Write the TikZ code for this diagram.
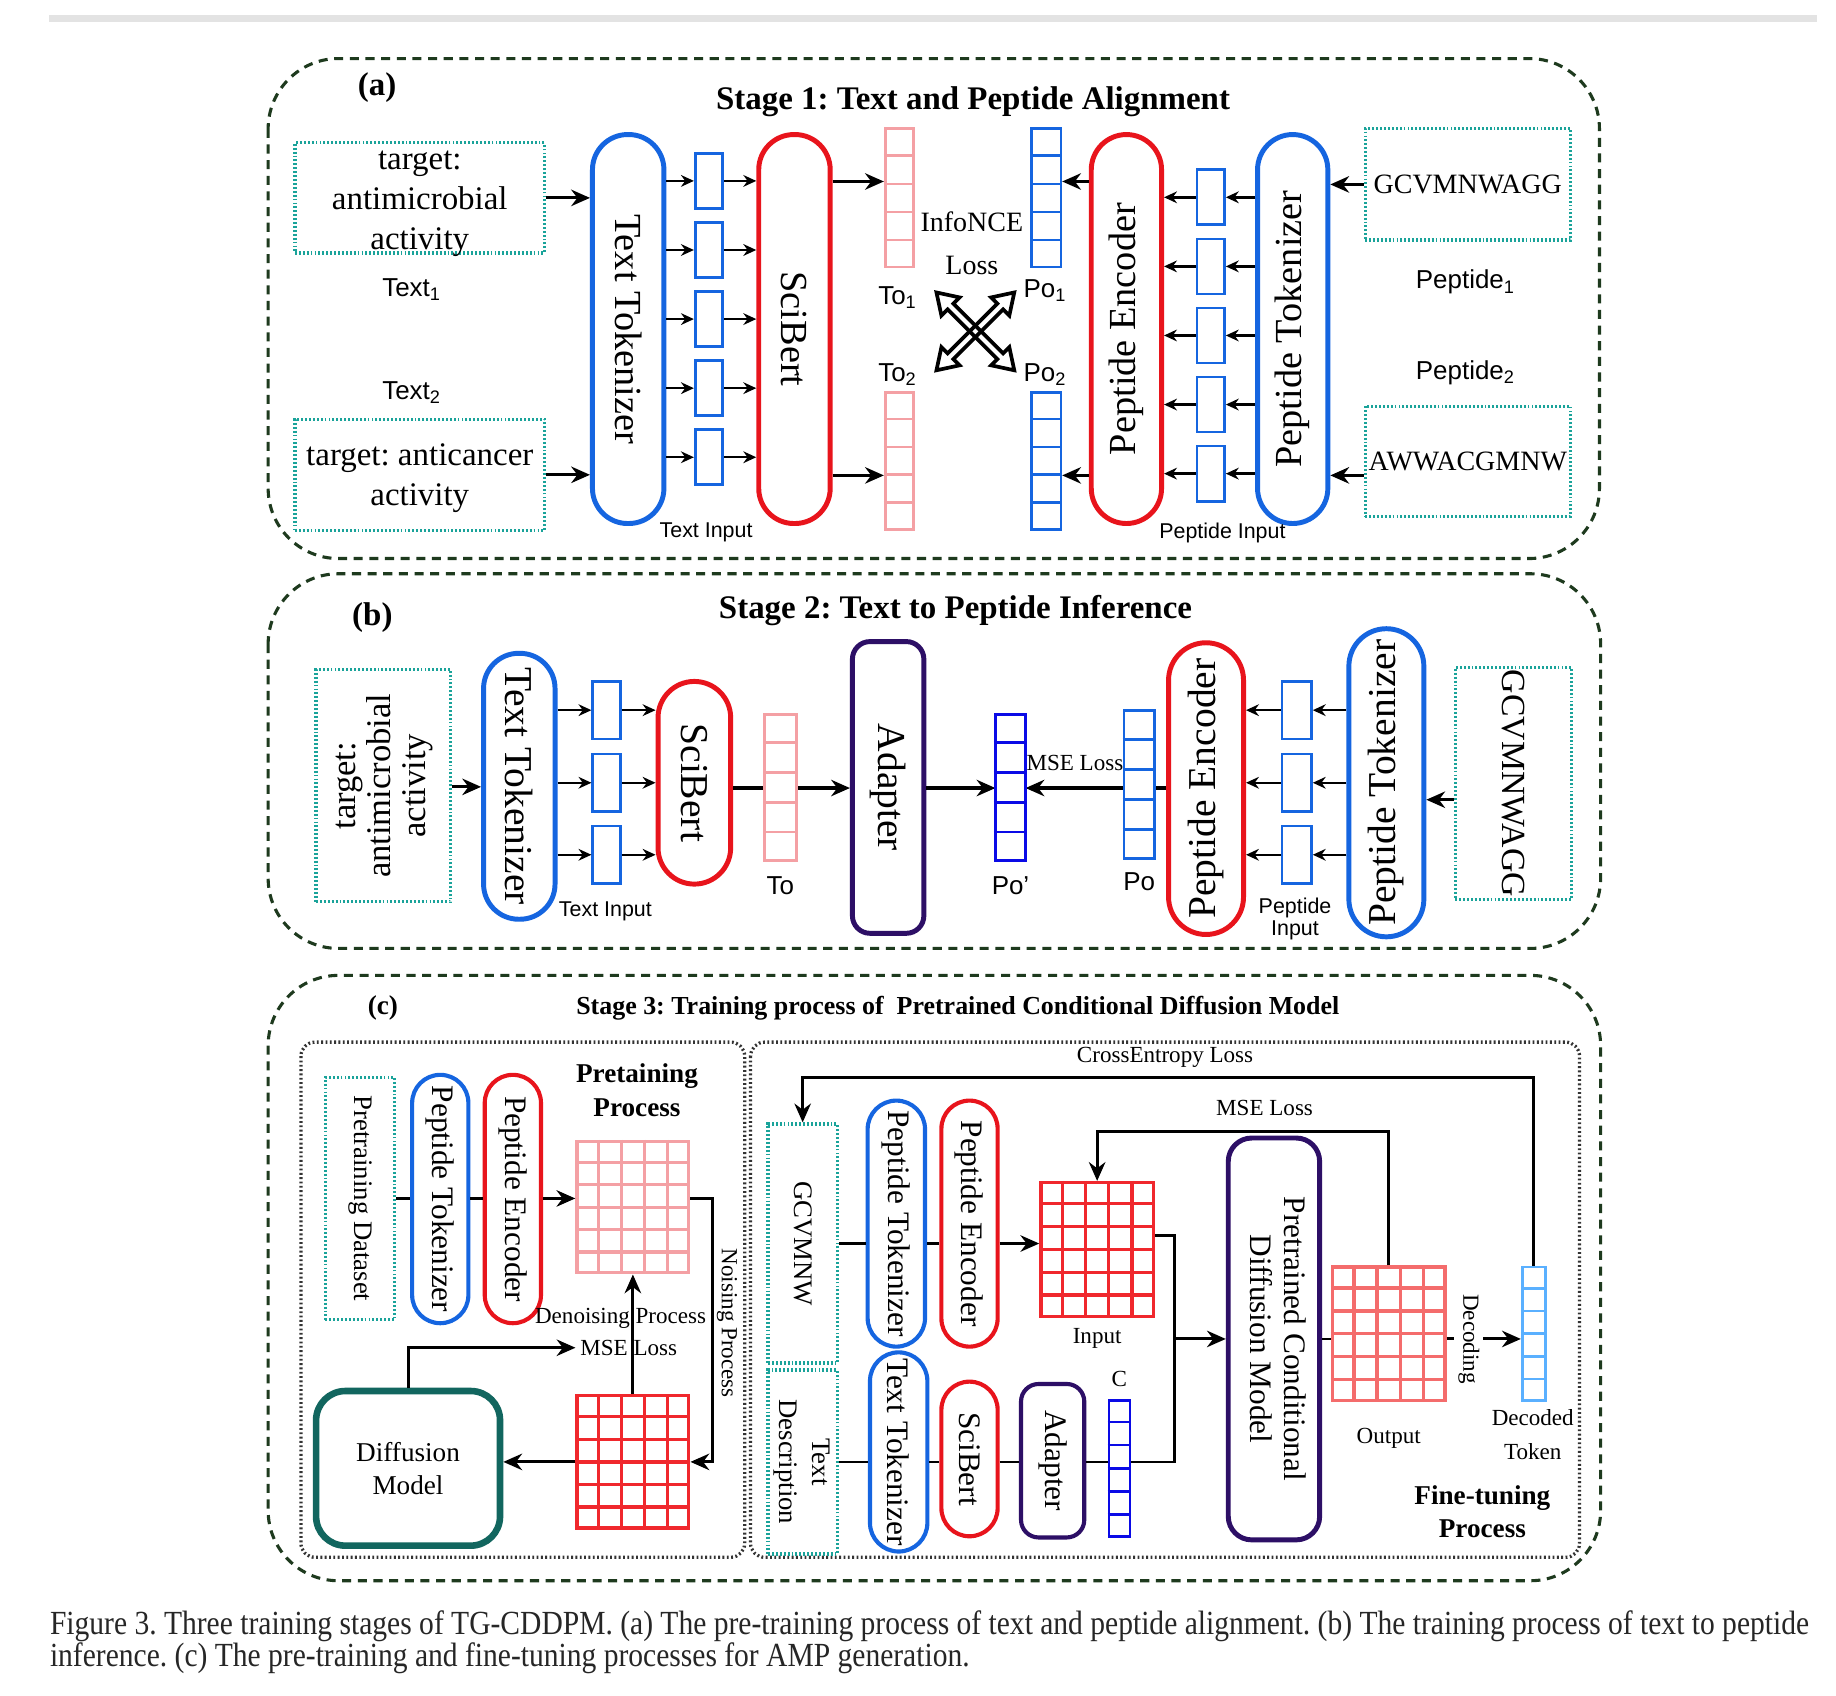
\documentclass[tikz,border=0pt]{standalone}
\usepackage{fontspec}
\setmainfont{Liberation Serif}
\setsansfont{Liberation Sans}
\newfontfamily\capfont[FakeStretch=0.875]{Liberation Serif}
\usepackage{graphicx}
\usetikzlibrary{arrows.meta, positioning, calc}
\definecolor{panelGreen}{HTML}{1E3A1E}
\definecolor{boxTeal}{HTML}{1AA39A}
\definecolor{tokBlue}{HTML}{1565E0}
\definecolor{encRed}{HTML}{E8141C}
\definecolor{vecPink}{HTML}{F4A0A4}
\definecolor{adpPurple}{HTML}{2D0F66}
\definecolor{diffTeal}{HTML}{12665F}
\definecolor{deepBlue}{HTML}{0A0AE6}
\definecolor{lightBlue}{HTML}{5AB0FF}
\definecolor{gridRed}{HTML}{F0282D}
\definecolor{outRed}{HTML}{F46C6C}

% rotated multi-line text
\newcommand{\rottext}[2]{\rotatebox{#1}{\begin{tabular}{@{}c@{}}#2\end{tabular}}}
% horizontal cell lines of a vector stack
\newcommand{\stackcells}[3]{%
  \pgfmathtruncatemacro{\nlines}{#2-1}%
  \foreach \k in {1,...,\nlines}{%
    \draw[#3, line width=0.6pt] ($(#1.north west)!\k/#2!(#1.south west)$) -- ($(#1.north east)!\k/#2!(#1.south east)$);}}
% cell lines of a matrix
\newcommand{\gridcells}[4]{%
  \pgfmathtruncatemacro{\gcols}{#2-1}\pgfmathtruncatemacro{\grows}{#3-1}%
  \foreach \k in {1,...,\gcols}{%
    \draw[#4, line width=0.8pt] ($(#1.north west)!\k/#2!(#1.north east)$) -- ($(#1.south west)!\k/#2!(#1.south east)$);}%
  \foreach \k in {1,...,\grows}{%
    \draw[#4, line width=0.8pt] ($(#1.north west)!\k/#3!(#1.south west)$) -- ($(#1.north east)!\k/#3!(#1.south east)$);}}
% hollow double-headed arrow
\newcommand{\crossarrow}[2]{%
  \begin{scope}[shift={#1}, rotate=#2]
    \draw[line width=0.9pt, line join=miter] (-47,0) -- (-30,11) -- (-30,3.5) -- (30,3.5) -- (30,11) -- (47,0)
      -- (30,-11) -- (30,-3.5) -- (-30,-3.5) -- (-30,-11) -- cycle;
  \end{scope}}

\begin{document}
\frenchspacing
\begin{tikzpicture}[
    x=0.01cm, y=-0.01cm,
    every node/.style={font=\fontsize{8}{9.7}\selectfont, align=center, inner sep=1pt},
    panel/.style={draw=panelGreen, line width=0.75pt, dash pattern=on 2.2pt off 1.6pt, rounded corners=0.6cm},
    subpanel/.style={draw=black!80, line width=0.8pt, dash pattern=on 0.45pt off 0.6pt, rounded corners=0.12cm},
    dbox/.style={draw=boxTeal, line width=0.8pt, dash pattern=on 0.45pt off 0.5pt, fill=white, inner sep=0pt},
    pill/.style={draw=#1, line width=1.2pt, fill=white, inner sep=0pt},
    tokbox/.style={draw=tokBlue, line width=0.65pt, fill=white, inner sep=0pt, minimum width=0.235cm, minimum height=0.47cm},
    vecstack/.style={draw=#1, line width=0.65pt, fill=white, inner sep=0pt},
    cellgrid/.style={draw=#1, line width=0.8pt, fill=white, inner sep=0pt, minimum width=0.955cm, minimum height=1.13cm},
    ttl/.style={font=\fontsize{8}{9.7}\selectfont\bfseries},
    pilltxt/.style={font=\fontsize{9.3}{11}\selectfont},
    pilltxtc/.style={font=\fontsize{7.6}{8.2}\selectfont},
    sans/.style={font=\sffamily\fontsize{6.3}{7.5}\selectfont},
    smallsans/.style={font=\sffamily\fontsize{5.2}{5.4}\selectfont},
    smalltxt/.style={font=\fontsize{5.6}{6.6}\selectfont},
    midtxt/.style={font=\fontsize{6.5}{8}\selectfont},
    arr/.style={-{Stealth[length=0.16cm, width=0.14cm]}, line width=0.75pt},
    sarr/.style={-{Stealth[length=0.11cm, width=0.1cm]}, line width=0.6pt},
    ln/.style={line width=0.65pt},
]
\fill[white] (0,0) rectangle (1568,1448);
\useasboundingbox (0,0) rectangle (1568,1448);
\fill[gray!22] (42,13) rectangle (1552,19);

% === STAGE 1: TEXT AND PEPTIDE ALIGNMENT ===
\draw[panel] (229,50) rectangle (1366,477);
\node[ttl] (labA) at (322,75) {(a)};
\node[ttl] (titleA) at (831,87) {Stage 1: Text and Peptide Alignment};

% --- text side ---
\node[dbox, minimum width=2.13cm, minimum height=0.94cm] (txtA1) at (358.5,169) {};
\node (txtA1t) at (358.5,174) {target:\\antimicrobial\\activity};
\node[dbox, minimum width=2.13cm, minimum height=0.95cm] (txtA2) at (358.5,405.5) {};
\node (txtA2t) at (358.5,408) {target: anticancer\\activity};
\node[sans] (nameT1) at (352,247) {Text\textsubscript{1}};
\node[sans] (nameT2) at (352,335) {Text\textsubscript{2}};

\node[pill=tokBlue, pilltxt, minimum width=0.61cm, minimum height=3.32cm, rounded corners=0.3cm] (ttokA) at (536.5,281) {\rotatebox{-90}{Text Tokenizer}};
\node[pill=encRed, pilltxt, minimum width=0.61cm, minimum height=3.32cm, rounded corners=0.3cm] (sciA) at (678.5,281) {\rotatebox{-90}{SciBert}};

\draw[arr] (txtA1.east) -- (txtA1.east -| ttokA.west);
\draw[arr] (txtA2.east) -- (txtA2.east -| ttokA.west);

\foreach \i/\y in {1/154.5, 2/213.5, 3/272.5, 4/331.5, 5/390.5} {
  \node[tokbox] (tin\i) at (605.5,\y) {};
  \draw[sarr] (tin\i.west -| ttokA.east) -- (tin\i.west);
  \draw[sarr] (tin\i.east) -- (tin\i.east -| sciA.west);
}
\node[smallsans] (tinLbl) at (603,455) {Text Input};

% --- outputs and loss ---
\coordinate (yA1) at (0,155);
\coordinate (yA2) at (0,406);
\node[vecstack=vecPink, minimum width=0.24cm, minimum height=1.18cm] (toA1) at (768,169) {};
\stackcells{toA1}{5}{vecPink}
\node[vecstack=vecPink, minimum width=0.24cm, minimum height=1.17cm] (toA2) at (768,393.5) {};
\stackcells{toA2}{5}{vecPink}
\draw[arr] (sciA.east |- yA1) -- (toA1.west |- yA1);
\draw[arr] (sciA.east |- yA2) -- (toA2.west |- yA2);
\node[sans] (lblTo1) at (767,254) {To\textsubscript{1}};
\node[sans] (lblTo2) at (767,320) {To\textsubscript{2}};

\node[font=\fontsize{6.8}{10.5}\selectfont] (lossA) at (830,208) {InfoNCE\\Loss};
\crossarrow{(833,283)}{45}
\crossarrow{(833,283)}{-45}

\node[vecstack=tokBlue, minimum width=0.25cm, minimum height=1.18cm] (poA1) at (893.5,169) {};
\stackcells{poA1}{5}{tokBlue}
\node[vecstack=tokBlue, minimum width=0.25cm, minimum height=1.17cm] (poA2) at (893.5,393.5) {};
\stackcells{poA2}{5}{tokBlue}
\node[sans] (lblPo1) at (893,248) {Po\textsubscript{1}};
\node[sans] (lblPo2) at (893,320) {Po\textsubscript{2}};

% --- peptide side ---
\node[pill=encRed, pilltxt, minimum width=0.6cm, minimum height=3.32cm, rounded corners=0.3cm] (pencA) at (962,281) {\rotatebox{90}{Peptide Encoder}};
\node[pill=tokBlue, pilltxt, minimum width=0.6cm, minimum height=3.32cm, rounded corners=0.3cm] (ptokA) at (1104,281) {\rotatebox{90}{Peptide Tokenizer}};
\draw[arr] (pencA.west |- yA1) -- (poA1.east |- yA1);
\draw[arr] (pencA.west |- yA2) -- (poA2.east |- yA2);

\foreach \i/\y in {1/168.5, 2/227.5, 3/286.5, 4/345.5, 5/404.5} {
  \node[tokbox] (pin\i) at (1034,\y) {};
  \draw[sarr] (pin\i.east -| ptokA.west) -- (pin\i.east);
  \draw[sarr] (pin\i.west) -- (pin\i.west -| pencA.east);
}
\node[smallsans] (pinLbl) at (1044,455) {Peptide Input};

\node[dbox, font=\fontsize{6.8}{8}\selectfont, minimum width=1.75cm, minimum height=0.95cm] (pepA1) at (1253.5,157.5) {GCVMNWAGG};
\node[dbox, font=\fontsize{6.8}{8}\selectfont, minimum width=1.75cm, minimum height=0.94cm] (pepA2) at (1253.5,394) {AWWACGMNW};
\draw[arr] (pepA1.west) -- (pepA1.west -| ptokA.east);
\draw[arr] (pepA2.west |- yA2) -- (ptokA.east |- yA2);
\node[sans] (nameP1) at (1252,241) {Peptide\textsubscript{1}};
\node[sans] (nameP2) at (1252,318) {Peptide\textsubscript{2}};

% === STAGE 2: TEXT TO PEPTIDE INFERENCE ===
\draw[panel] (229,490) rectangle (1367,810);
\node[ttl] (labB) at (318,527) {(b)};
\node[ttl] (titleB) at (816,521) {Stage 2: Text to Peptide Inference};

\node[dbox, minimum width=1.15cm, minimum height=1.98cm] (txtB) at (327.5,671) {};
\node[font=\fontsize{8.4}{8.6}\selectfont] (txtBt) at (txtB) {\rottext{90}{target:\\antimicrobial\\activity}};

\node[pill=tokBlue, font=\fontsize{9.6}{11}\selectfont, minimum width=0.61cm, minimum height=2.27cm, rounded corners=0.3cm] (ttokB) at (443.5,671.5) {\rotatebox{-90}{Text Tokenizer}};
\node[pill=encRed, font=\fontsize{9.6}{11}\selectfont, minimum width=0.62cm, minimum height=1.73cm, rounded corners=0.31cm] (sciB) at (593,668.5) {\rotatebox{-90}{SciBert}};
\node[pill=adpPurple, font=\fontsize{9.6}{11}\selectfont, minimum width=0.61cm, minimum height=2.49cm, rounded corners=0.15cm] (adapB) at (758.5,672.5) {\rotatebox{-90}{Adapter}};
\node[pill=encRed, font=\fontsize{9.6}{11}\selectfont, minimum width=0.64cm, minimum height=2.49cm, rounded corners=0.32cm] (pencB) at (1030,673.5) {\rotatebox{90}{Peptide Encoder}};
\node[pill=tokBlue, font=\fontsize{9.6}{11}\selectfont, minimum width=0.64cm, minimum height=2.63cm, rounded corners=0.32cm] (ptokB) at (1184,668.5) {\rotatebox{90}{Peptide Tokenizer}};
\node[dbox, font=\fontsize{8.2}{9}\selectfont, minimum width=0.99cm, minimum height=1.98cm] (pepB) at (1292.5,669) {\rotatebox{-90}{GCVMNWAGG}};

\coordinate (yB1) at (0,672);
\coordinate (yB2) at (0,673);
\coordinate (yB3) at (0,683);
\draw[arr] (txtB.east |- yB1) -- (ttokB.west |- yB1);
\foreach \i/\y in {1/606.5, 2/668.5, 3/730} {
  \node[tokbox, minimum height=0.49cm] (tinB\i) at (518,\y) {};
  \draw[sarr] (tinB\i.west -| ttokB.east) -- (tinB\i.west);
  \draw[sarr] (tinB\i.east) -- (tinB\i.east -| sciB.west);
  \node[tokbox, minimum width=0.25cm, minimum height=0.49cm] (pinB\i) at (1107.5,\y) {};
  \draw[sarr] (pinB\i.east -| ptokB.west) -- (pinB\i.east);
  \draw[sarr] (pinB\i.west) -- (pinB\i.west -| pencB.east);
}
\draw[arr] (sciB.east |- yB2) -- (adapB.west |- yB2);
\draw[arr] (adapB.east |- yB2) -- ++(59,0) coordinate (poTip);
\draw[arr] (pencB.west |- yB2) -- ++(-120,0);
\draw[arr] (pepB.west |- yB3) -- (ptokB.east |- yB3);

\node[vecstack=vecPink, minimum width=0.27cm, minimum height=1.25cm] (toB) at (666.5,672.5) {};
\stackcells{toB}{5}{vecPink}
\node[vecstack=deepBlue, minimum width=0.26cm, minimum height=1.25cm] (poPrime) at (863,672.5) {};
\stackcells{poPrime}{5}{deepBlue}
\node[vecstack=tokBlue, minimum width=0.26cm, minimum height=1.26cm] (poB) at (973,670) {};
\stackcells{poB}{5}{tokBlue}

\node[sans, below=0.08cm of toB] (lblTo) {To};
\node[sans, below=0.08cm of poPrime] (lblPoP) {Po'};
\node[sans, below=0.07cm of poB] (lblPo) {Po};
\node[smalltxt] (mseB) at (918,652) {MSE Loss};
\node[smallsans] (tinLblB) at (517,778) {Text Input};
\node[smallsans] (pinLblB) at (1106,785) {Peptide\\Input};

% === STAGE 3: TRAINING OF THE CONDITIONAL DIFFUSION MODEL ===
\draw[panel] (229,833) rectangle (1367,1350);
\node[font=\fontsize{6.6}{8}\selectfont\bfseries] (labC) at (327,861) {(c)};
\node[font=\fontsize{6.3}{7.5}\selectfont\bfseries] (titleC) at (818,861) {Stage 3: Training process of \ Pretrained Conditional Diffusion Model};
\draw[subpanel] (257,890) rectangle (636,1330);
\draw[subpanel] (641,890) rectangle (1349,1330);

% --- pretraining ---
\node[dbox, midtxt, minimum width=0.59cm, minimum height=2.07cm] (dsC) at (307.5,1023.5) {\rotatebox{-90}{Pretraining Dataset}};
\node[pill=tokBlue, pilltxtc, line width=1pt, minimum width=0.48cm, minimum height=2.12cm, rounded corners=0.24cm] (ptokC1) at (376,1024) {\rotatebox{-90}{Peptide Tokenizer}};
\node[pill=encRed, pilltxtc, line width=1pt, minimum width=0.48cm, minimum height=2.12cm, rounded corners=0.24cm] (pencC1) at (438,1024) {\rotatebox{-90}{Peptide Encoder}};
\node[cellgrid=vecPink, minimum height=1.12cm] (pgrid) at (540.5,1031) {};
\gridcells{pgrid}{5}{6}{vecPink}
\node[cellgrid=gridRed] (rgrid) at (540.5,1248.5) {};
\gridcells{rgrid}{5}{6}{gridRed}
\node[draw=diffTeal, line width=1.6pt, rounded corners=0.25cm, font=\fontsize{6.6}{8}\selectfont, minimum width=1.57cm, minimum height=1.32cm] (diffC) at (348.5,1254) {Diffusion\\Model};
\node[font=\fontsize{6.6}{8.2}\selectfont\bfseries] (preLbl) at (544,931) {Pretaining\\Process};
\node[smalltxt] (noiseLbl) at (621,1130) {\rotatebox{-90}{Noising Process}};
\node[smalltxt] (denoiseLbl) at (530,1126) {Denoising Process};
\node[smalltxt] (mseC1) at (537,1151) {MSE Loss};

\draw[ln] (dsC.east) -- (dsC.east -| ptokC1.west);
\draw[ln] (ptokC1.east |- dsC.east) -- (pencC1.west |- dsC.east);
\draw[arr] (pencC1.east |- dsC.east) -- (pgrid.west |- dsC.east);
\draw[arr] (pgrid.east |- dsC.east) -- ++(19,0) |- (rgrid.east);
\draw[arr] (rgrid.north) -- (pgrid.south);
\draw[arr] (rgrid.west) -- (rgrid.west -| diffC.east);
\draw[arr] (diffC.north) |- (mseC1.west);

% --- fine-tuning ---
\node[dbox, font=\fontsize{6.5}{8}\selectfont, minimum width=0.59cm, minimum height=2.04cm] (gC) at (685.5,1062) {\rotatebox{-90}{GCVMNW}};
\node[dbox, font=\fontsize{6.5}{8}\selectfont, minimum width=0.59cm, minimum height=1.57cm] (tdC) at (685.5,1248.5) {\rottext{-90}{Text\\Description}};
\node[pill=tokBlue, pilltxtc, line width=1pt, minimum width=0.49cm, minimum height=2.1cm, rounded corners=0.245cm] (ptokC2) at (765.5,1045) {\rotatebox{-90}{Peptide Tokenizer}};
\node[pill=encRed, pilltxtc, line width=1pt, minimum width=0.48cm, minimum height=2.1cm, rounded corners=0.24cm] (pencC2) at (828,1045) {\rotatebox{-90}{Peptide Encoder}};
\node[cellgrid=gridRed, minimum width=0.96cm, minimum height=1.14cm] (ingrid) at (937,1067) {};
\gridcells{ingrid}{5}{6}{gridRed}
\node[pill=tokBlue, pilltxtc, line width=1pt, minimum width=0.49cm, minimum height=1.7cm, rounded corners=0.245cm] (ttokC) at (767.5,1240) {\rotatebox{-90}{Text Tokenizer}};
\node[pill=encRed, pilltxtc, line width=1pt, minimum width=0.48cm, minimum height=1.32cm, rounded corners=0.24cm] (sciC) at (828,1246) {\rotatebox{-90}{SciBert}};
\node[pill=adpPurple, pilltxtc, line width=1pt, minimum width=0.54cm, minimum height=1.31cm, rounded corners=0.15cm] (adapC) at (899,1247.5) {\rotatebox{-90}{Adapter}};
\node[vecstack=deepBlue, minimum width=0.18cm, minimum height=1.16cm] (cvec) at (956,1254) {};
\stackcells{cvec}{6}{deepBlue}
\node[pill=adpPurple, pilltxtc, line width=1.2pt, minimum width=0.78cm, minimum height=3.43cm, rounded corners=0.2cm] (pcdm) at (1088,1143.5) {\rottext{-90}{Pretrained Conditional\\Diffusion Model}};
\node[cellgrid=outRed, minimum width=0.96cm, minimum height=1.14cm] (outgrid) at (1186,1139) {};
\gridcells{outgrid}{5}{6}{outRed}
\node[vecstack=lightBlue, minimum width=0.2cm, minimum height=1.14cm] (dectok) at (1310,1139) {};
\stackcells{dectok}{6}{lightBlue}

\node[smalltxt, below=0.05cm of ingrid] (inLbl) {Input};
\node[smalltxt, above=0.06cm of cvec] (cLbl) {C};
\node[smalltxt, below=0.18cm of outgrid] (outLbl) {Output};
\node[font=\fontsize{5.6}{8.2}\selectfont] (decLbl) at (1309,1225) {Decoded\\Token};
\node[font=\fontsize{6.6}{8}\selectfont\bfseries] (ftLbl) at (1266,1291) {Fine-tuning\\Process};
\node[smalltxt] (ceLbl) at (995,903) {CrossEntropy Loss};
\node[smalltxt] (mseC2) at (1080,946) {MSE Loss};

\coordinate (joinC) at (1003,1143.5);
\coordinate (yIn) at (0,1055);
\coordinate (ceTop) at (1000,920);
\coordinate (mseTop) at (1080,966);
\draw[ln] (gC.east) -- (gC.east -| ptokC2.west);
\draw[ln] (ptokC2.east |- gC.east) -- (pencC2.west |- gC.east);
\draw[arr] (pencC2.east |- gC.east) -- (ingrid.west |- gC.east);
\draw[ln] (tdC.east) -- (tdC.east -| ttokC.west);
\draw[ln] (ttokC.east |- tdC.east) -- (sciC.west |- tdC.east);
\draw[ln] (sciC.east |- tdC.east) -- (adapC.west |- tdC.east);
\draw[ln] (adapC.east |- tdC.east) -- (cvec.west |- tdC.east);
\draw[ln] (cvec.east |- tdC.east) -| (joinC);
\draw[ln] (ingrid.east |- yIn) -| (joinC);
\draw[arr] (joinC) -- (pcdm.west |- joinC);
\draw[ln] (pcdm.east |- joinC) -- (outgrid.west |- joinC);
\draw[arr] (outgrid.east |- joinC) -- node[pos=0.3, fill=white, inner sep=1pt, smalltxt] (decodeLbl) {\rotatebox{-90}{Decoding}} (dectok.west |- joinC);
\draw[arr] (dectok.north) |- (ceTop) -| (gC.north);
\draw[arr] (outgrid.north) |- (mseTop) -| (ingrid.north);

% === CAPTION ===
\node[anchor=north west, align=left, inner sep=0pt, text=black!85, font=\capfont\fontsize{8.2}{7.8}\selectfont] (caption) at (42,1375)
  {Figure 3. Three training stages of TG-CDDPM. (a) The pre-training process of text and peptide alignment. (b) The training process of text to peptide\\
   inference. (c) The pre-training and fine-tuning processes for AMP generation.};
\end{tikzpicture}
\end{document}
